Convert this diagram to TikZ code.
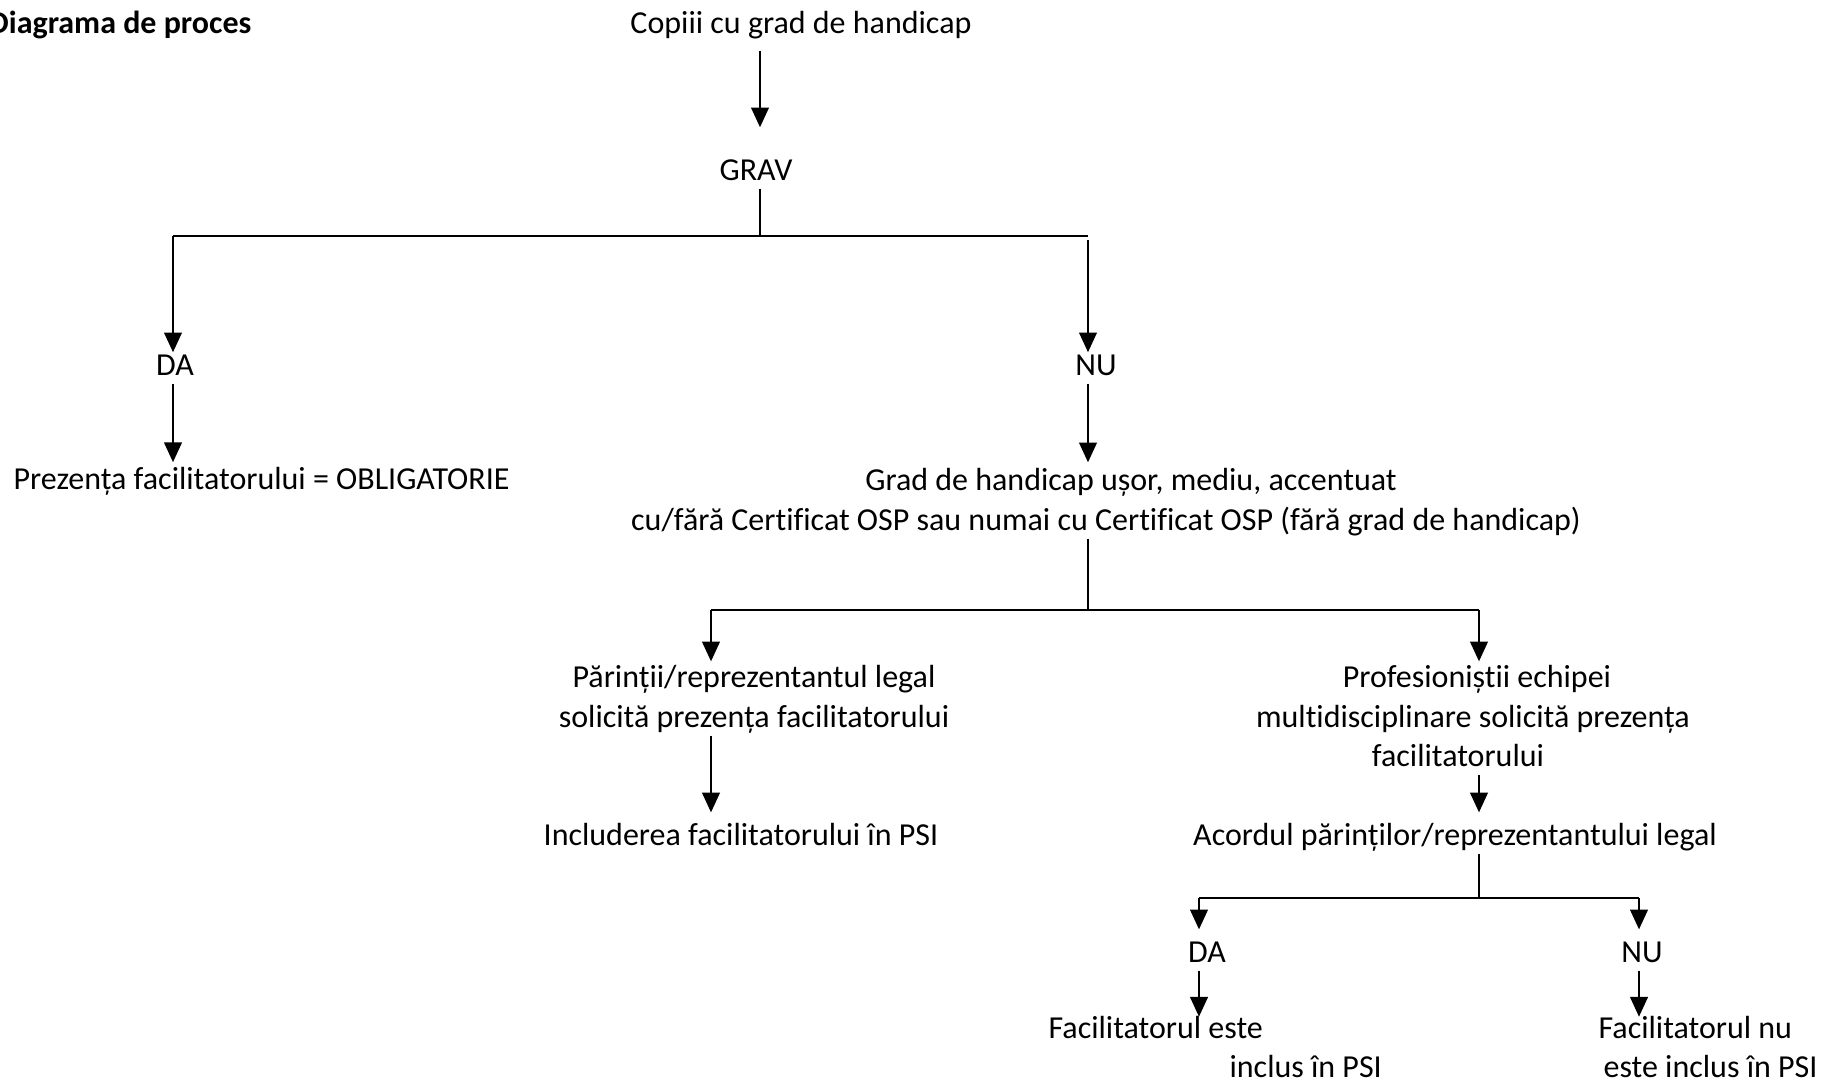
\documentclass[tikz,border=0pt]{standalone}
\usepackage{fontspec}
\setmainfont{Carlito}[Ligatures={NoCommon}]
\usetikzlibrary{arrows.meta}

\begin{document}
\begin{tikzpicture}[x=0.34375pt,y=-0.34375pt,
    lbl/.style={inner sep=0pt,text height=7.1pt,text depth=2.75pt,anchor=base,font=\fontsize{11}{13}\selectfont},
    arr/.style={line width=0.9pt,-{Triangle[length=6.8pt,width=6pt]}},
    bar/.style={line width=0.75pt}]
    \useasboundingbox (0,0) rectangle (1832,1082);

    % Title
    \node[lbl,anchor=base east,font=\fontsize{11}{13}\selectfont\bfseries] (title) at (252,33) {Diagrama de proces};

    % Text Nodes
    \node[lbl] (copii) at (801,33) {Copiii cu grad de handicap};
    \node[lbl] (grav) at (756,180) {GRAV};
    \node[lbl] (da) at (175,375) {DA};
    \node[lbl] (nu) at (1096,375) {NU};
    \node[lbl,anchor=base west] (oblig) at (13,489) {Prezența facilitatorului = OBLIGATORIE};
    \node[lbl] (gradA) at (1131,490) {Grad de handicap ușor, mediu, accentuat};
    \node[lbl] (gradB) at (1106,530) {cu/fără Certificat OSP sau numai cu Certificat OSP (fără grad de handicap)};
    \node[lbl] (parA) at (754,687) {Părinții/reprezentantul legal};
    \node[lbl] (parB) at (754,727) {solicită prezența facilitatorului};
    \node[lbl] (incl) at (741,845) {Includerea facilitatorului în PSI};
    \node[lbl] (profA) at (1477,687) {Profesioniștii echipei};
    \node[lbl] (profB) at (1473,727) {multidisciplinare solicită prezența};
    \node[lbl] (profC) at (1458,766) {facilitatorului};
    \node[lbl] (acord) at (1455,845) {Acordul părinților/reprezentantului legal};
    \node[lbl] (daB) at (1207,962) {DA};
    \node[lbl] (nuB) at (1642,962) {NU};
    \node[lbl,anchor=base west] (facdaA) at (1048,1038) {Facilitatorul este};
    \node[lbl,anchor=base west] (facdaB) at (1229,1077) {inclus în PSI};
    \node[lbl,anchor=base west] (facnuA) at (1598,1038) {Facilitatorul nu};
    \node[lbl,anchor=base west] (facnuB) at (1603,1077) {este inclus în PSI};

    % Junctions
    \coordinate (j0) at (760,236);
    \coordinate (b1l) at (173,236);
    \coordinate (b1r) at (1088,236);
    \coordinate (b2l) at (711,610);
    \coordinate (b2r) at (1479,610);
    \coordinate (b3l) at (1199,898);
    \coordinate (b3r) at (1639,898);

    % Connectors
    \draw[arr,shorten <=3.1pt,shorten >=10.8pt] (copii.south -| j0) -- (grav.north -| j0);
    \draw[bar] (grav.south -| j0) -- (j0);
    \draw[bar] (b1l) -- (b1r);
    \draw[arr,shorten >=0.5pt] (b1l) -- (b1l |- da.north);
    \draw[arr,shorten >=1.9pt] (b1l |- da.south) -- (b1l |- oblig.north);
    \draw[arr,shorten <=1.4pt,shorten >=0.5pt] (b1r) -- (b1r |- nu.north);
    \draw[arr,shorten >=2.2pt] (b1r |- nu.south) -- (b1r |- gradA.north);
    \draw[bar] (b1r |- gradB.south) -- (b1r |- b2l);
    \draw[bar] (b2l) -- (b2r);
    \draw[arr,shorten >=1.5pt] (b2l) -- (b2l |- parA.north);
    \draw[arr,shorten >=3.9pt] (b2l |- parB.south) -- (b2l |- incl.north);
    \draw[arr,shorten >=1.5pt] (b2r) -- (b2r |- profA.north);
    \draw[arr,shorten >=3.9pt] (b2r |- profC.south) -- (b2r |- acord.north);
    \draw[bar] (b2r |- acord.south) -- (b2r |- b3l);
    \draw[bar] (b3l) -- (b3r);
    \draw[arr,shorten >=3.9pt] (b3l) -- (b3l |- daB.north);
    \draw[arr] (b3l |- daB.south) -- (b3l |- facdaA.north);
    \draw[arr,shorten >=3.9pt] (b3r) -- (b3r |- nuB.north);
    \draw[arr] (b3r |- nuB.south) -- (b3r |- facnuA.north);
\end{tikzpicture}
\end{document}
